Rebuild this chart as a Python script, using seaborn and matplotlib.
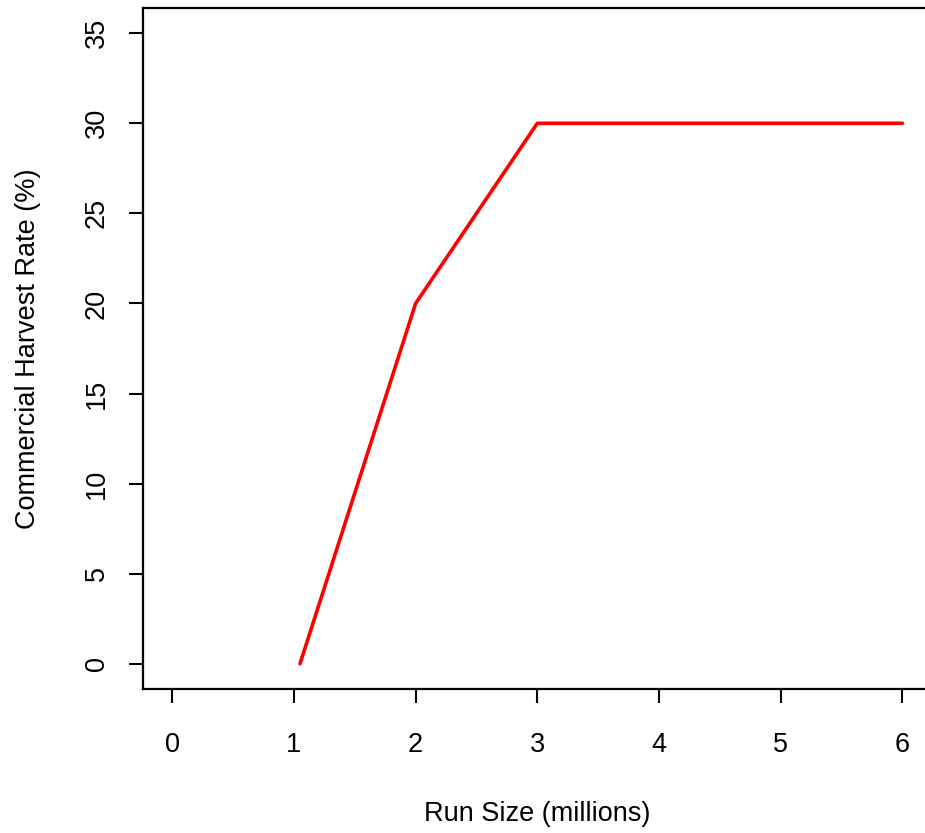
import pandas as pd
import matplotlib.pyplot as plt
import seaborn as sns

sns.set_style("ticks")
plt.rcParams['font.family'] = ['Liberation Sans', 'DejaVu Sans']
plt.rcParams['text.color'] = 'black'
plt.rcParams['axes.labelcolor'] = 'black'
plt.rcParams['xtick.color'] = 'black'
plt.rcParams['ytick.color'] = 'black'

# harvest control rule
run_size = [1.05, 2, 3, 6]
harvest_rate = [0, 20, 30, 30]
x_ticks = [0, 1, 2, 3, 4, 5, 6]
y_ticks = [0, 5, 10, 15, 20, 25, 30, 35]

df = pd.DataFrame({'run': run_size, 'rate': harvest_rate})

fig = plt.figure(figsize=(9.25, 8.33), dpi=100)
ax = fig.add_axes([0.1546, 0.1729, 0.8526, 0.8175])
sns.lineplot(data=df, x='run', y='rate', color='#ff0000', linewidth=2.6, ax=ax)

ax.set_xlim(-0.24, 6.24)
ax.set_ylim(-1.4, 36.4)
ax.set_xticks(x_ticks)
ax.set_yticks(y_ticks)
ax.set_yticklabels([str(v) for v in y_ticks], rotation=90, va='center')
ax.tick_params(labelsize=19.5, length=10, width=1.5, color='black', labelcolor='black')
ax.tick_params(axis='x', pad=21)
ax.tick_params(axis='y', pad=14)
for s in ax.spines.values():
    s.set_linewidth(1.6)
    s.set_color('black')

ax.set_xlabel('Run Size (millions)', fontsize=19.5, labelpad=31, color='black')
ax.set_ylabel('Commercial Harvest Rate (%)', fontsize=19.5, labelpad=31, color='black')

fig.savefig('out.png', dpi=100)
